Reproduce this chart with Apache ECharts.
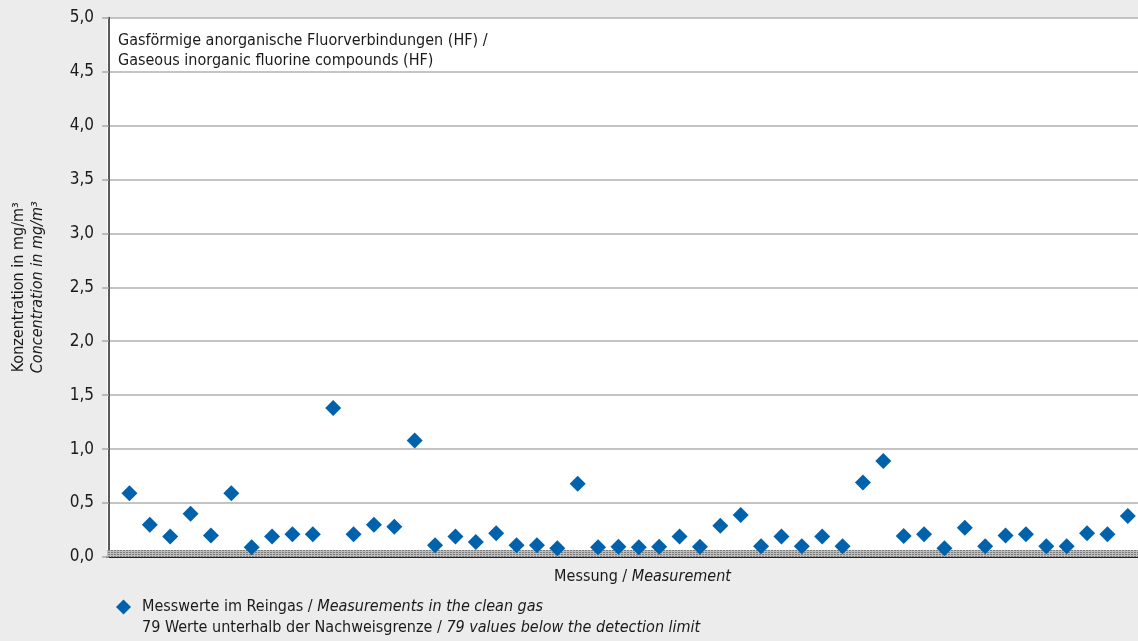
<!DOCTYPE html>
<html>
<head>
<meta charset="utf-8">
<script src="https://cdn.jsdelivr.net/npm/echarts@6/dist/echarts.min.js"></script>
<style>
html,body{margin:0;padding:0;background:#ebeceb;}
#c{width:1138px;height:641px;}
</style>
</head>
<body>
<div id="c"></div>
<script>
// Data
const measurements = [1,2,3,4,5,6,7,8,9,10,11,12,13,14,15,16,17,18,19,20,21,22,23,24,25,26,27,28,29,30,31,32,33,34,35,36,37,38,39,40,41,42,43,44,45,46,47,48,49,50];
const values = [0.59,0.30,0.19,0.40,0.20,0.59,0.09,0.19,0.21,0.21,1.38,0.21,0.30,0.28,1.08,0.11,0.19,0.14,0.22,0.11,0.11,0.08,0.68,0.09,0.095,0.09,0.095,0.19,0.095,0.29,0.39,0.10,0.19,0.10,0.19,0.10,0.69,0.89,0.195,0.21,0.08,0.27,0.10,0.20,0.21,0.10,0.10,0.22,0.21,0.38];
const yTicks = ['0,0','0,5','1,0','1,5','2,0','2,5','3,0','3,5','4,0','4,5','5,0'];
const detectionLimit = 0.065;

const FONT = "'Liberation Sans Narrow','DejaVu Sans Condensed',sans-serif";
const FS = 16;

// band pattern
const pc = document.createElement('canvas');
pc.width = 3; pc.height = 2;
const pctx = pc.getContext('2d');
pctx.fillStyle = '#bdbdbd'; pctx.fillRect(0,0,3,2);
pctx.fillStyle = '#7d7d7d'; pctx.fillRect(0,0,2,1);

const rich = {
  a: {fontFamily: FONT, fontSize: FS, color: '#1a1a1a'},
  b: {fontFamily: FONT, fontSize: FS, color: '#1a1a1a', fontStyle: 'italic'}
};

const chart = echarts.init(document.getElementById('c'), null, {renderer:'canvas'});
chart.setOption({
  backgroundColor: '#ebeceb',
  animation: false,
  textStyle: {fontFamily: FONT},
  title: [
    {
      text: 'Gasförmige anorganische Fluorverbindungen (HF) /\nGaseous inorganic fluorine compounds (HF)',
      left: 113, top: 26,
      textStyle: {fontFamily: FONT, fontSize: FS, fontWeight: 'normal', color: '#1a1a1a', lineHeight: 20}
    },
    {
      text: '{a|79 Werte unterhalb der Nachweisgrenze / }{b|79 values below the detection limit}',
      left: 137, top: 615,
      textStyle: {fontFamily: FONT, fontSize: FS, fontWeight: 'normal', color: '#1a1a1a', rich: rich}
    }
  ],
  legend: {
    left: 111, top: 594,
    itemWidth: 15, itemHeight: 15, itemGap: 10,
    data: [{name: 'Messwerte', icon: 'diamond'}],
    formatter: function(){ return '{a|Messwerte im Reingas / }{b|Measurements in the clean gas}'; },
    textStyle: {fontFamily: FONT, fontSize: FS, color: '#1a1a1a', padding: [0,0,0,6], rich: rich}
  },
  grid: {
    left: 107, right: 0, top: 17.5, bottom: 84,
    outerBoundsMode: 'none',
    containLabel: false,
    show: true, backgroundColor: '#ffffff', borderWidth: 0
  },
  xAxis: {
    type: 'value', min: -0.1, max: 50.5,
    axisLine: {show: true, onZero: false, lineStyle: {color: '#222', width: 2}},
    axisTick: {show: false}, axisLabel: {show: false}, splitLine: {show: false},
    name: '{a|Messung / }{b|Measurement}',
    nameLocation: 'middle', nameGap: 12,
    nameTextStyle: {padding: [0,0,0,40], rich: rich}
  },
  yAxis: {
    type: 'value', min: 0, max: 5, interval: 0.5,
    axisLine: {show: true, lineStyle: {color: '#222', width: 1.5}},
    axisTick: {show: true, length: 7, lineStyle: {color: '#aaaaaa', width: 1.5}},
    axisLabel: {
      margin: 13, fontFamily: FONT, fontSize: 17, color: '#1a1a1a',
      formatter: function(v){ return yTicks[Math.round(v/0.5)]; }
    },
    splitLine: {show: true, lineStyle: {color: '#b0b0b0', width: 1.5}},
    name: '{a|Konzentration in mg/m³}\n{b|Concentration in mg/m³}',
    nameLocation: 'middle', nameGap: 60, nameRotate: 90,
    nameTextStyle: {
      lineHeight: 19,
      rich: {
        a: {fontFamily: FONT, fontSize: 16, color: '#1a1a1a', lineHeight: 19},
        b: {fontFamily: FONT, fontSize: 16, color: '#1a1a1a', fontStyle: 'italic', lineHeight: 19}
      }
    }
  },
  series: [
    {
      name: 'Messwerte',
      type: 'scatter',
      symbol: 'diamond',
      symbolSize: 16,
      itemStyle: {color: '#0062ac', opacity: 1},
      z: 5,
      data: measurements.map(function(m,i){ return [m, values[i]]; }),
      markArea: {
        silent: true,
        itemStyle: {color: {image: pc, repeat: 'repeat'}},
        data: [[{yAxis: 0}, {yAxis: detectionLimit}]]
      }
    }
  ]
});
</script>
</body>
</html>
